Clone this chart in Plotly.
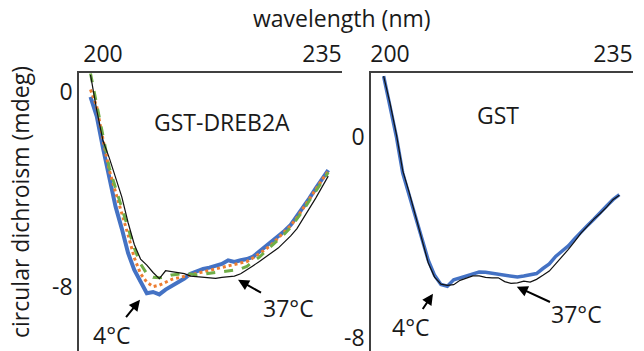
import plotly.graph_objects as go

# ---------------- data ----------------
wl_left = list(range(198, 237))
dreb_4c = [-0.2, -1.0, -2.3, -3.6, -4.7, -5.6, -6.6, -7.3, -7.8, -8.25,
           -8.2, -8.3, -8.1, -7.95, -7.8, -7.65, -7.45, -7.35, -7.25, -7.2,
           -7.12, -7.05, -6.9, -6.97, -6.9, -6.85, -6.75, -6.55, -6.35, -6.15,
           -5.95, -5.7, -5.45, -5.1, -4.75, -4.35, -3.95, -3.55, -3.2]
dreb_orange = [0.1, -0.6, -1.95, -3.2, -4.1, -4.95, -5.85, -6.8, -7.45, -7.8,
               -7.98, -7.92, -7.8, -7.68, -7.62, -7.56, -7.52, -7.45, -7.4, -7.33,
               -7.27, -7.21, -7.14, -7.08, -7.02, -6.95, -6.8, -6.63, -6.45, -6.24,
               -6.0, -5.76, -5.48, -5.15, -4.78, -4.4, -4.0, -3.6, -3.25]
dreb_green = [0.76, -0.46, -1.8, -3.1, -3.95, -4.75, -5.55, -6.4, -7.05, -7.45,
              -7.6, -7.62, -7.58, -7.5, -7.47, -7.44, -7.46, -7.5, -7.47, -7.44,
              -7.42, -7.38, -7.35, -7.3, -7.25, -7.15, -6.95, -6.77, -6.53, -6.3,
              -6.05, -5.82, -5.55, -5.22, -4.85, -4.45, -4.05, -3.65, -3.3]
dreb_37c = [0.7, -0.75, -2.0, -2.7, -3.5, -4.3, -5.35, -6.25, -6.85, -7.1,
            -7.4, -7.65, -7.33, -7.38, -7.42, -7.45, -7.55, -7.58, -7.6, -7.62,
            -7.64, -7.6, -7.58, -7.55, -7.45, -7.3, -7.12, -6.95, -6.78, -6.58,
            -6.4, -6.15, -5.9, -5.6, -5.2, -4.8, -4.35, -3.9, -3.45]

wl_right = list(range(199, 237))
gst_4c = [2.4, 1.2, 0.0, -1.45, -2.3, -3.2, -4.05, -4.9, -5.5, -5.86,
          -5.93, -5.68, -5.6, -5.53, -5.43, -5.37, -5.38, -5.42, -5.46, -5.5,
          -5.55, -5.57, -5.53, -5.48, -5.43, -5.23, -5.05, -4.75, -4.55, -4.33,
          -4.05, -3.77, -3.52, -3.28, -3.0, -2.75, -2.5, -2.3]
gst_37c = [2.4, 1.33, 0.1, -1.35, -2.2, -3.1, -4.05, -5.0, -5.57, -5.85,
           -5.9, -5.87, -5.7, -5.6, -5.52, -5.52, -5.58, -5.6, -5.6, -5.75,
           -5.82, -5.8, -5.73, -5.77, -5.66, -5.5, -5.33, -5.05, -4.77, -4.47,
           -4.15, -3.82, -3.55, -3.27, -3.05, -2.8, -2.5, -2.33]

x_ticks = [200, 235]
x_ticktext = ["200", "235"]
y_ticks = [0, -8]
y_ticktext = ["0", "-8"]

FONT = "Open Sans"
TXT = "#1a1a1a"
AX = "#404040"
FS = 23

fig = go.Figure()
# left panel
fig.add_trace(go.Scatter(x=wl_left, y=dreb_4c, mode="lines", line=dict(color="#4472C4", width=4),
                         xaxis="x", yaxis="y", showlegend=False))
fig.add_trace(go.Scatter(x=wl_left, y=dreb_orange, mode="lines", line=dict(color="#ED7D31", width=3, dash="dot"),
                         xaxis="x", yaxis="y", showlegend=False))
fig.add_trace(go.Scatter(x=wl_left, y=dreb_green, mode="lines", line=dict(color="#70AD47", width=3, dash="dash"),
                         xaxis="x", yaxis="y", showlegend=False))
fig.add_trace(go.Scatter(x=wl_left, y=dreb_37c, mode="lines", line=dict(color="#111111", width=1.2),
                         xaxis="x", yaxis="y", showlegend=False))
# right panel
fig.add_trace(go.Scatter(x=wl_right, y=gst_4c, mode="lines", line=dict(color="#4472C4", width=3.5),
                         xaxis="x2", yaxis="y2", showlegend=False))
fig.add_trace(go.Scatter(x=wl_right, y=gst_37c, mode="lines", line=dict(color="#111111", width=1.2),
                         xaxis="x2", yaxis="y2", showlegend=False))

axis_common = dict(showline=True, linecolor=AX, linewidth=1.5, showgrid=False, zeroline=False,
                   ticks="", automargin=False, ticklabeloverflow="allow",
                   tickfont=dict(family=FONT, size=FS, color=TXT))

fig.update_layout(
    width=644, height=351,
    margin=dict(l=0, r=0, t=0, b=0, autoexpand=False),
    paper_bgcolor="white", plot_bgcolor="white",
    hovermode=False,
    xaxis=dict(domain=[79 / 644, 342 / 644], range=[196.16, 238.2], side="top", anchor="y",
               tickvals=x_ticks, ticktext=x_ticktext, **axis_common),
    yaxis=dict(domain=[0, 1 - 73 / 351], range=[-10.62, 0.78], anchor="x",
               tickvals=y_ticks, ticktext=y_ticktext, **axis_common),
    xaxis2=dict(domain=[371 / 644, 633 / 644], range=[197.02, 238.14], side="top", anchor="y2",
                tickvals=x_ticks, ticktext=x_ticktext, **axis_common),
    yaxis2=dict(domain=[0, 1 - 73 / 351], range=[-8.5, 2.52], anchor="x2",
                tickvals=y_ticks, ticktext=y_ticktext, **axis_common),
)

ann_font = dict(family=FONT, size=FS, color=TXT)
arrow = dict(showarrow=True, arrowhead=2, arrowsize=1.1, arrowwidth=2, arrowcolor="#000")
annotations = [
    dict(text="wavelength (nm)", x=342 / 644, y=1 - 18 / 351, xref="paper", yref="paper",
         xanchor="center", yanchor="middle", showarrow=False, font=ann_font),
    dict(text="circular dichroism (mdeg)", x=20 / 644, y=1 - 202 / 351, xref="paper", yref="paper",
         xanchor="center", yanchor="middle", showarrow=False, textangle=-90, font=ann_font),
    dict(text="GST-DREB2A", x=200 + (222 - 103) / 6.257, y=(92 - 122) / 24.4, xref="x", yref="y",
         xanchor="center", yanchor="middle", showarrow=False, font=ann_font),
    dict(text="GST", x=200 + (498 - 390) / 6.371, y=(137 - 115) / 25.375, xref="x2", yref="y2",
         xanchor="center", yanchor="middle", showarrow=False, font=ann_font),
    dict(text="4°C", x=205.91, y=-8.52, ax=201.44, ay=-9.95, xref="x", yref="y", axref="x", ayref="y",
         font=ann_font, **arrow),
    dict(text="37°C", x=221.58, y=-7.70, ax=229.57, ay=-8.85, xref="x", yref="y", axref="x", ayref="y",
         font=ann_font, **arrow),
    dict(text="4°C", x=206.75, y=-6.23, ax=203.3, ay=-7.53, xref="x2", yref="y2", axref="x2", ayref="y2",
         font=ann_font, **arrow),
    dict(text="37°C", x=219.9, y=-5.95, ax=229.35, ay=-7.05, xref="x2", yref="y2", axref="x2", ayref="y2",
         font=ann_font, **arrow),
]
fig.update_layout(annotations=annotations)

fig.write_html("out.html", config={"displayModeBar": False},
               post_script="document.body.style.margin='0px';")
